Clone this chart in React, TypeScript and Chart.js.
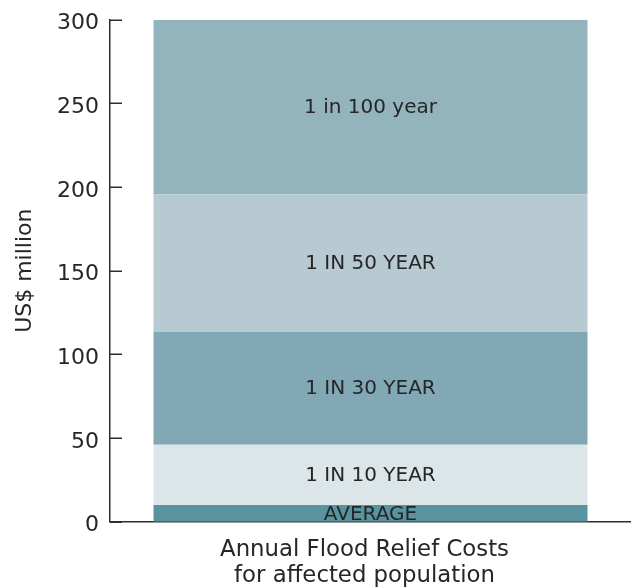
import React, { useEffect, useRef } from "react";
import { Chart, registerables } from "chart.js";

Chart.register(...registerables);

const categories: string[][] = [["Annual Flood Relief Costs", "for affected population"]];
const seriesLabels: string[] = ["AVERAGE", "1 IN 10 YEAR", "1 IN 30 YEAR", "1 IN 50 YEAR", "1 in 100 year"];
const seriesValues: number[] = [10, 36, 67.5, 82, 104.5];
const seriesColors: string[] = ["#5893a0", "#dce5e8", "#82a8b6", "#b8cad1", "#93b4bd"];
const yMin = 0;
const yMax = 300;
const yStep = 50;
const yTitle = "US$ million";

const FONT = "'DejaVu Sans', sans-serif";
const AXIS_COLOR = "#2e2e2e";

const innerTicks = {
  id: "innerTicks",
  afterDraw(chart: any) {
    const y = chart.scales.y;
    const ctx = chart.ctx;
    ctx.save();
    ctx.strokeStyle = AXIS_COLOR;
    ctx.lineWidth = 1.5;
    y.ticks.forEach((_t: any, i: number) => {
      const py = Math.round(y.getPixelForTick(i)) + 0.25;
      ctx.beginPath();
      ctx.moveTo(chart.chartArea.left, py);
      ctx.lineTo(chart.chartArea.left + 12, py);
      ctx.stroke();
    });
    ctx.restore();
  },
};

const segmentLabels = {
  id: "segmentLabels",
  afterDatasetsDraw(chart: any) {
    const ctx = chart.ctx;
    ctx.save();
    ctx.font = `20px ${FONT}`;
    ctx.fillStyle = "#262626";
    ctx.textAlign = "center";
    ctx.textBaseline = "middle";
    chart.data.datasets.forEach((ds: any, di: number) => {
      const meta = chart.getDatasetMeta(di);
      meta.data.forEach((el: any) => {
        const cx = el.x;
        const cy = (el.y + el.base) / 2;
        ctx.fillText(ds.label, cx, cy + 1);
      });
    });
    ctx.restore();
  },
};

export default function App() {
  const ref = useRef<HTMLCanvasElement | null>(null);

  useEffect(() => {
    document.body.style.margin = "0";
    if (!ref.current) return;
    const chart = new Chart(ref.current, {
      type: "bar",
      data: {
        labels: categories as any,
        datasets: seriesLabels.map((label, i) => ({
          label,
          data: [seriesValues[i]],
          backgroundColor: seriesColors[i],
          borderWidth: 0,
          categoryPercentage: 1,
          barPercentage: 0.833,
        })),
      },
      options: {
        animation: false,
        responsive: false,
        devicePixelRatio: 1,
        layout: { padding: { top: 19.7, left: 0, right: 0, bottom: 0 } },
        plugins: {
          legend: { display: false },
          tooltip: { enabled: false },
        },
        scales: {
          x: {
            stacked: true,
            grid: { display: false },
            border: { display: true, color: AXIS_COLOR, width: 1.5 },
            ticks: {
              color: "#262626",
              font: { family: FONT, size: 22.8, lineHeight: 1.12 },
              padding: 8,
              labelOffset: -6,
              maxRotation: 0,
              autoSkip: false,
            },
            afterFit(scale: any) {
              scale.height = 65.3;
            },
          },
          y: {
            stacked: true,
            min: yMin,
            max: yMax,
            grid: { display: false },
            border: { display: true, color: AXIS_COLOR, width: 1.5 },
            ticks: {
              stepSize: yStep,
              color: "#262626",
              font: { family: FONT, size: 22 },
              padding: 3,
              labelOffset: 4,
            },
            title: {
              display: true,
              text: yTitle,
              color: "#262626",
              font: { family: FONT, size: 22 },
              padding: { top: 12, bottom: 0 },
            },
            afterFit(scale: any) {
              scale.width = 110;
            },
          },
        },
      },
      plugins: [innerTicks, segmentLabels],
    });
    return () => chart.destroy();
  }, []);

  return (
    <div style={{ width: 631, height: 587, position: "relative" }}>
      <canvas ref={ref} width={631} height={587} style={{ width: 631, height: 587, display: "block" }} />
    </div>
  );
}
